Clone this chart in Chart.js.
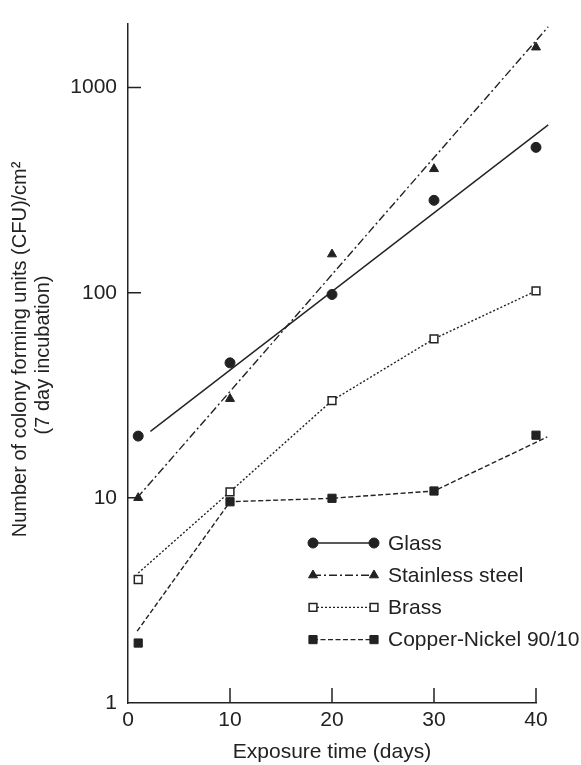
<!DOCTYPE html>
<html>
<head>
<meta charset="utf-8">
<script src="https://cdn.jsdelivr.net/npm/chart.js@4.4.0/dist/chart.umd.min.js"></script>
<style>
  body { margin: 0; background: #fff; }
</style>
</head>
<body>
<canvas id="myChart" width="581" height="765"></canvas>
<script>
// sampling days and measured CFU/cm2 for each material
var days = [1, 10, 20, 30, 40];
var glass = [20, 45.5, 98, 282, 511];
var stainless = [10, 30.4, 154, 401, 1571];
var brass = [4.0, 10.7, 29.8, 59.6, 102];
var cuNi = [1.96, 9.57, 9.95, 10.8, 20.2];

// fitted lines (glass, stainless) and connecting lines (brass, cu-ni)
var glassFitX = [2.2, 41.2];
var glassFitY = [21.1, 658];
var stainlessFitX = [0.9, 41.2];
var stainlessFitY = [10, 1980];
var brassLineX = [1, 10, 20, 30, 40, 41.8];
var brassLineY = [4.3, 10.7, 29.8, 59.6, 102, 110];
var cuNiLineX = [0.9, 10, 20, 30, 41.1];
var cuNiLineY = [2.24, 9.57, 9.95, 10.8, 19.8];

var xTicks = [0, 10, 20, 30, 40];
var yTicks = [1, 10, 100, 1000];
var legendLabels = ["Glass", "Stainless steel", "Brass", "Copper-Nickel 90/10"];

var ink = "#222";
var font = "'Liberation Sans', Arial, sans-serif";

function pairs(xs, ys) {
  return xs.map(function(x, i) { return { x: x, y: ys[i] }; });
}

function markers(ys, style, radius, fill) {
  return {
    data: pairs(days, ys),
    showLine: false,
    pointStyle: style,
    pointRadius: radius,
    pointBackgroundColor: fill,
    pointBorderColor: ink,
    pointBorderWidth: fill === "#fff" ? 1.5 : 1,
    order: 1,
    clip: false
  };
}

function line(xs, ys, dash) {
  return {
    data: pairs(xs, ys),
    showLine: true,
    pointRadius: 0,
    borderColor: ink,
    borderWidth: 1.4,
    borderDash: dash,
    tension: 0,
    order: 2,
    clip: false
  };
}

var markerSets = [
  markers(glass, "circle", 5, ink),
  markers(stainless, "triangle", 5.2, ink),
  markers(brass, "rect", 5.5, "#fff"),
  markers(cuNi, "rect", 5.8, ink)
];
var lineSets = [
  line(glassFitX, glassFitY, []),
  line(stainlessFitX, stainlessFitY, [8, 3, 2, 3]),
  line(brassLineX, brassLineY, [2, 2]),
  line(cuNiLineX, cuNiLineY, [5, 2.5])
];

function drawMarker(ctx, ds, x, y) {
  var r = ds.pointRadius;
  ctx.save();
  ctx.setLineDash([]);
  ctx.fillStyle = ds.pointBackgroundColor;
  ctx.strokeStyle = ds.pointBorderColor;
  ctx.lineWidth = ds.pointBorderWidth;
  ctx.beginPath();
  if (ds.pointStyle === "circle") {
    ctx.arc(x, y, r, 0, Math.PI * 2);
  } else if (ds.pointStyle === "triangle") {
    ctx.moveTo(x, y - r);
    ctx.lineTo(x + Math.sin(2 * Math.PI / 3) * r, y + r / 2);
    ctx.lineTo(x - Math.sin(2 * Math.PI / 3) * r, y + r / 2);
    ctx.closePath();
  } else {
    var s = Math.SQRT1_2 * r;
    ctx.rect(x - s, y - s, 2 * s, 2 * s);
  }
  ctx.fill();
  ctx.stroke();
  ctx.restore();
}

// inward tick marks like the original print
var tickMarks = {
  id: "tickMarks",
  afterDraw: function(chart) {
    var ctx = chart.ctx;
    var xs = chart.scales.x;
    var ys = chart.scales.y;
    var area = chart.chartArea;
    ctx.save();
    ctx.strokeStyle = ink;
    ctx.lineWidth = 1.5;
    ctx.beginPath();
    xTicks.slice(1).forEach(function(v) {
      var px = xs.getPixelForValue(v);
      ctx.moveTo(px, area.bottom);
      ctx.lineTo(px, area.bottom - 15);
    });
    yTicks.slice(1).forEach(function(v) {
      var py = ys.getPixelForValue(v);
      ctx.moveTo(area.left, py);
      ctx.lineTo(area.left + 13, py);
    });
    ctx.stroke();
    ctx.restore();
  }
};

// legend box inside the plot: marker, line, marker, label
var innerLegend = {
  id: "innerLegend",
  afterDraw: function(chart) {
    var ctx = chart.ctx;
    var x1 = 313, x2 = 374, tx = 388, y0 = 543, step = 32.2;
    ctx.save();
    legendLabels.forEach(function(label, i) {
      var y = y0 + i * step;
      var ls = lineSets[i];
      ctx.strokeStyle = ink;
      ctx.lineWidth = ls.borderWidth;
      ctx.setLineDash(ls.borderDash);
      ctx.beginPath();
      ctx.moveTo(x1, y);
      ctx.lineTo(x2, y);
      ctx.stroke();
      drawMarker(ctx, markerSets[i], x1, y);
      drawMarker(ctx, markerSets[i], x2, y);
      ctx.fillStyle = ink;
      ctx.font = "21px " + font;
      ctx.textBaseline = "middle";
      ctx.fillText(label, tx, y + 1);
    });
    ctx.restore();
  }
};

var ctx = document.getElementById("myChart").getContext("2d");
var myChart = new Chart(ctx, {
  type: "scatter",
  data: { datasets: markerSets.concat(lineSets) },
  options: {
    responsive: false,
    devicePixelRatio: 1,
    animation: false,
    layout: { padding: { top: 11, right: 45, left: 0, bottom: 0 } },
    plugins: { legend: { display: false }, tooltip: { enabled: false } },
    scales: {
      x: {
        type: "linear",
        min: 0,
        max: 40,
        afterFit: function(scale) { scale.height = 62; },
        afterBuildTicks: function(scale) {
          scale.ticks = xTicks.map(function(v) { return { value: v }; });
        },
        grid: { display: false, drawTicks: false },
        border: { display: true, color: ink, width: 1.5 },
        ticks: { color: ink, padding: 5, font: { family: font, size: 21 } },
        title: {
          display: true,
          text: "Exposure time (days)",
          color: ink,
          font: { family: font, size: 21 },
          padding: { top: 0, bottom: 0 }
        }
      },
      y: {
        type: "logarithmic",
        min: 1,
        max: 2050,
        afterFit: function(scale) { scale.width = 128; },
        afterBuildTicks: function(scale) {
          scale.ticks = yTicks.map(function(v) { return { value: v }; });
        },
        grid: { display: false, drawTicks: false },
        border: { display: true, color: ink, width: 1.5 },
        ticks: {
          color: ink,
          padding: 11,
          font: { family: font, size: 21 },
          callback: function(v) { return String(v); }
        },
        title: {
          display: true,
          // leading spaces nudge the centred rotated lines upward
          text: ["     Number of colony forming units (CFU)/cm\u00b2", "   (7 day incubation)"],
          color: ink,
          font: { family: font, size: 20, lineHeight: 1.15 },
          padding: { top: 8.5, bottom: 0 }
        }
      }
    }
  },
  plugins: [tickMarks, innerLegend]
});
</script>
</body>
</html>
